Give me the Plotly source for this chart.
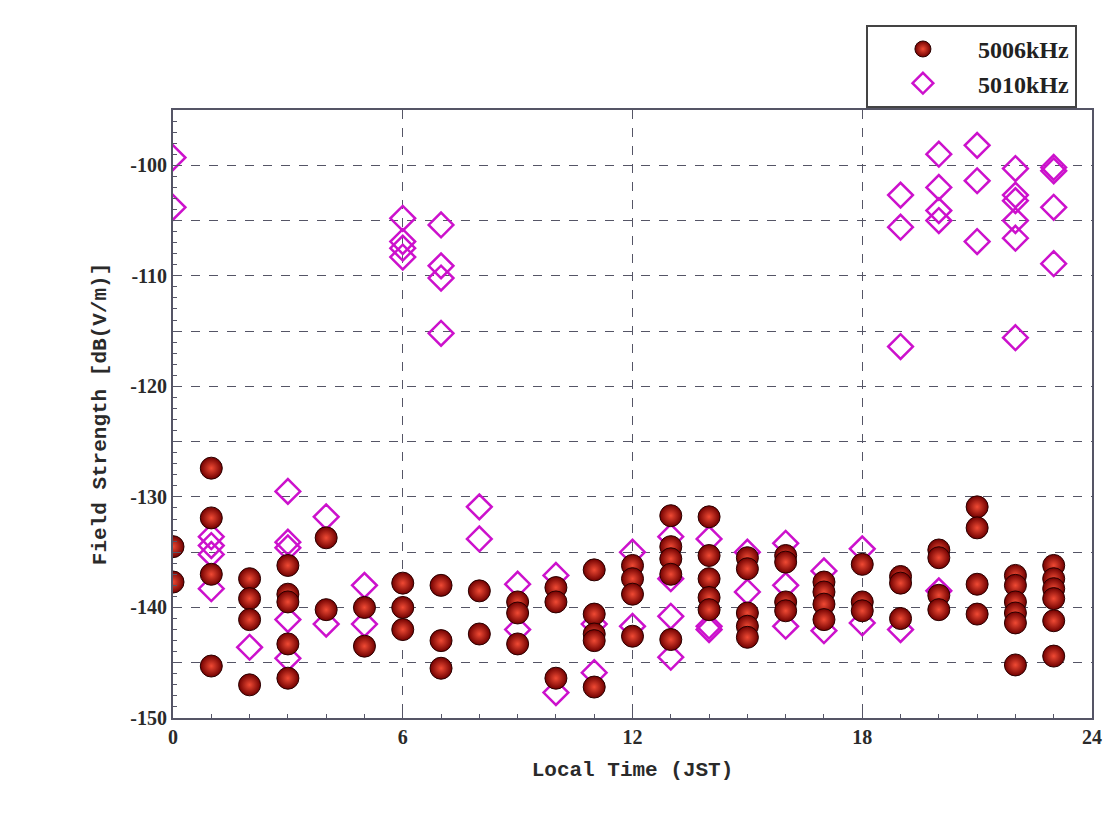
import plotly.graph_objects as go

# 5006kHz (red spheres)
hours_5006 = [0, 0,
              1, 1, 1, 1,
              2, 2, 2, 2,
              3, 3, 3, 3, 3,
              4, 4,
              5, 5,
              6, 6, 6,
              7, 7, 7,
              8, 8,
              9, 9, 9,
              10, 10, 10,
              11, 11, 11, 11, 11,
              12, 12, 12, 12,
              13, 13, 13, 13, 13,
              14, 14, 14, 14, 14,
              15, 15, 15, 15, 15,
              16, 16, 16, 16,
              17, 17, 17, 17,
              18, 18, 18,
              19, 19, 19,
              20, 20, 20, 20,
              21, 21, 21, 21,
              22, 22, 22, 22, 22, 22,
              23, 23, 23, 23, 23, 23]
field_5006 = [-134.5, -137.7,
              -127.4, -131.9, -137.0, -145.3,
              -137.4, -139.2, -141.1, -147.0,
              -136.2, -138.8, -139.5, -143.3, -146.4,
              -133.7, -140.2,
              -140.0, -143.5,
              -137.8, -140.0, -142.0,
              -138.0, -143.0, -145.5,
              -138.5, -142.4,
              -139.5, -140.5, -143.3,
              -138.2, -139.5, -146.4,
              -136.6, -140.6, -142.4, -143.0, -147.2,
              -136.2, -137.4, -138.8, -142.6,
              -131.7, -134.5, -135.6, -137.0, -142.9,
              -131.8, -135.3, -137.4, -139.1, -140.2,
              -135.5, -136.5, -140.5, -141.7, -142.7,
              -135.3, -135.9, -139.5, -140.3,
              -137.7, -138.6, -139.7, -141.1,
              -136.1, -139.5, -140.3,
              -137.2, -137.8, -141.0,
              -134.8, -135.5, -138.9, -140.2,
              -130.9, -132.8, -137.9, -140.6,
              -137.1, -138.0, -139.5, -140.5, -141.4, -145.2,
              -136.2, -137.4, -138.3, -139.2, -141.2, -144.4]

# 5010kHz (magenta open diamonds)
hours_5010 = [0, 0,
              1, 1, 1, 1,
              2,
              3, 3, 3, 3, 3,
              4, 4,
              5, 5,
              6, 6, 6, 6,
              7, 7, 7, 7,
              8, 8,
              9, 9,
              10, 10,
              11, 11,
              12, 12,
              13, 13, 13, 13,
              14, 14, 14,
              15, 15,
              16, 16, 16,
              17, 17,
              18, 18,
              19, 19, 19, 19,
              20, 20, 20, 20, 20,
              21, 21, 21,
              22, 22, 22, 22, 22, 22,
              23, 23, 23, 23]
field_5010 = [-99.3, -103.8,
              -133.6, -134.4, -135.2, -138.3,
              -143.6,
              -129.5, -134.1, -134.6, -141.1, -144.6,
              -131.8, -141.5,
              -138.0, -141.5,
              -104.8, -106.9, -107.5, -108.3,
              -105.4, -109.1, -110.2, -115.2,
              -130.9, -133.8,
              -137.9, -142.0,
              -137.1, -147.7,
              -141.5, -145.9,
              -135.0, -141.7,
              -133.6, -137.4, -140.8, -144.5,
              -133.8, -141.7, -142.0,
              -135.0, -138.6,
              -134.2, -138.0, -141.7,
              -136.7, -142.1,
              -134.7, -141.4,
              -102.7, -105.6, -116.4, -142.0,
              -99.0, -102.0, -104.1, -105.0, -138.5,
              -98.2, -101.4, -106.9,
              -100.3, -102.7, -103.2, -105.0, -106.6, -115.6,
              -100.2, -100.5, -103.8, -108.9]

series_names = ["5006kHz", "5010kHz"]
y_tick_vals = [-150, -145, -140, -135, -130, -125, -120, -115, -110, -105, -100]
y_tick_text = ["-150", "", "-140", "", "-130", "", "-120", "", "-110", "", "-100"]
x_tick_vals = [0, 6, 12, 18, 24]
x_tick_text = ["0", "6", "12", "18", "24"]

fig = go.Figure()

fig.add_trace(go.Scatter(
    x=hours_5010, y=field_5010, mode="markers", name=series_names[1],
    legendrank=2,
    marker=dict(symbol="diamond-open", size=19, color="#cc11cc",
                line=dict(width=2.5, color="#cc11cc")),
))
fig.add_trace(go.Scatter(
    x=hours_5006, y=field_5006, mode="markers", name=series_names[0],
    legendrank=1,
    marker=dict(symbol="circle", size=22, color="#700000",
                gradient=dict(type="radial", color="#f04a34"),
                line=dict(width=1, color="#2a0000")),
))

grid_color = "#555566"
tick_font = dict(family="Liberation Serif", size=20, color="#2a2a2a", weight="bold")
title_font = dict(family="Liberation Mono", size=21, color="#2a2a2a", weight="bold")

fig.update_xaxes(
    range=[0, 24], tickvals=x_tick_vals, ticktext=x_tick_text,
    showgrid=True, gridcolor=grid_color, griddash="dash", gridwidth=1,
    showline=True, linecolor="#555566", linewidth=2, mirror=True,
    ticks="inside", ticklen=8, tickcolor="#555566",
    minor=dict(dtick=1, ticks="inside", ticklen=4, tickcolor="#555566", showgrid=False),
    tickfont=tick_font, zeroline=False,
    title=dict(text="Local Time (JST)", font=title_font, standoff=14),
)
fig.update_yaxes(
    range=[-150, -95], tickvals=y_tick_vals, ticktext=y_tick_text,
    showgrid=True, gridcolor=grid_color, griddash="dash", gridwidth=1,
    showline=True, linecolor="#555566", linewidth=2, mirror=True,
    ticks="inside", ticklen=8, tickcolor="#555566",
    minor=dict(dtick=1, ticks="inside", ticklen=4, tickcolor="#555566", showgrid=False),
    tickfont=tick_font, zeroline=False,
    title=dict(text="Field Strength [dB(V/m)]", font=title_font, standoff=18),
)

fig.update_layout(
    width=1114, height=819,
    margin=dict(l=173, r=22, t=110, b=101),
    paper_bgcolor="white", plot_bgcolor="white",
    showlegend=True,
    legend=dict(
        x=0.754, y=1.14, xanchor="left", yanchor="top",
        bgcolor="white", bordercolor="#444444", borderwidth=2,
        font=dict(family="Liberation Serif", size=24, color="#222222", weight="bold"),
        itemwidth=100, tracegroupgap=0,
    ),
)

fig.write_html("out.html")
